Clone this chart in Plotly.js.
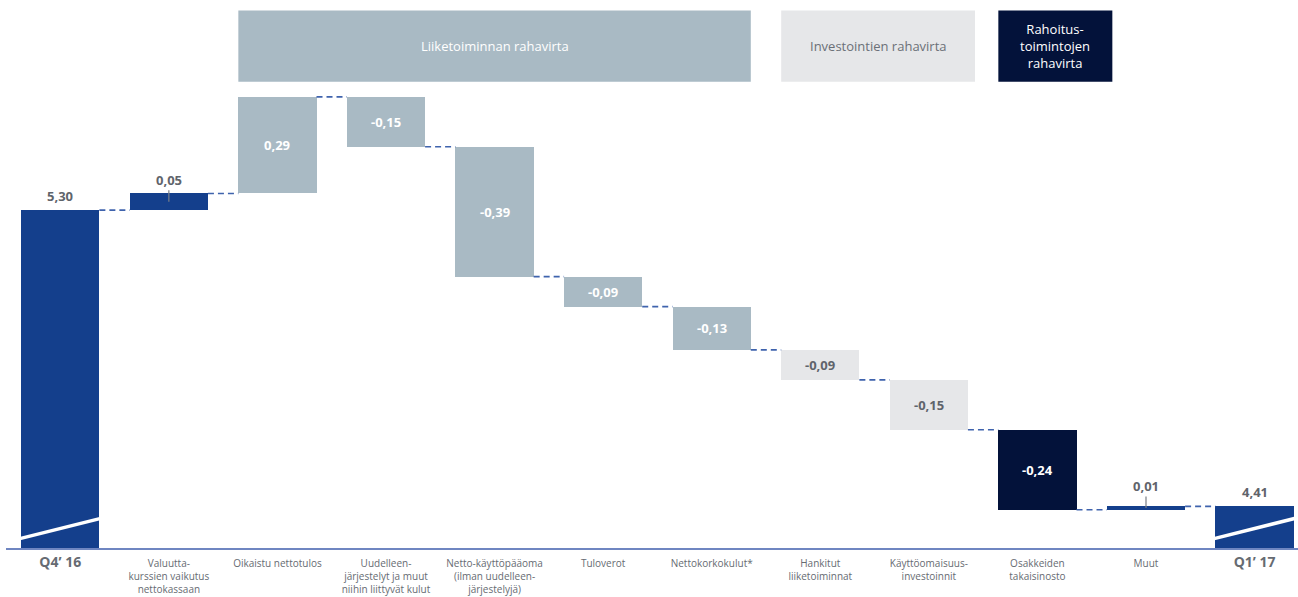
<!DOCTYPE html>
<html>
<head>
<meta charset="utf-8">
<script src="https://cdn.plot.ly/plotly-3.0.1.min.js"></script>
<style>html,body{margin:0;padding:0;background:#fff;}#chart{width:1298px;height:597px;}</style>
</head>
<body>
<div id="chart"></div>
<script>
// ---- data ----
const categories = ["Q4’ 16", "Valuutta-<br>kurssien vaikutus<br>nettokassaan", "Oikaistu nettotulos",
  "Uudelleen-<br>järjestelyt ja muut<br>niihin liittyvät kulut", "Netto-käyttöpääoma<br>(ilman uudelleen-<br>järjestelyjä)",
  "Tuloverot", "Nettokorkokulut*", "Hankitut<br>liiketoiminnat", "Käyttöomaisuus-<br>investoinnit",
  "Osakkeiden<br>takaisinosto", "Muut", "Q1’ 17"];
const values = [5.30, 0.05, 0.29, -0.15, -0.39, -0.09, -0.13, -0.09, -0.15, -0.24, 0.01, 4.41];
const kinds = ["total", "fx", "op", "op", "op", "op", "op", "inv", "inv", "fin", "fx", "total"];
const groupLabels = ["Liiketoiminnan rahavirta", "Investointien rahavirta", "Rahoitus-<br>toimintojen<br>rahavirta"];
const groupFirst = [2, 7, 9];
const groupLast = [6, 8, 9];

// ---- styles ----
const colorOf = {total: "#143f8c", fx: "#143f8c", op: "#a9bac4", inv: "#e6e7e9", fin: "#03123a"};
const labelColorOf = {op: "#ffffff", inv: "#5f646b", fin: "#ffffff"};
const groupFill = ["#a9bac4", "#e6e7e9", "#03123a"];
const groupText = ["#ffffff", "#6b7077", "#ffffff"];
const groupRightPad = [0.36, 0.425, 0.69];
const BW = 0.72, HALF = BW / 2;
const YMIN = 4.285, YMAX = 5.931;
const FONT = "Open Sans, sans-serif";

// ---- compute waterfall ----
const n = values.length;
const bases = [], tops = [];
let run = 0;
for (let i = 0; i < n; i++) {
  if (kinds[i] === "total") { bases.push(0); run = values[i]; tops.push(values[i]); }
  else { bases.push(run); run = run + values[i]; tops.push(run); }
}
const idx = categories.map((_, i) => i);
const fmt = v => (v < 0 ? "-" : "") + Math.abs(v).toFixed(2).replace(".", ",");

const traces = [{
  type: "bar", x: idx, y: values, base: bases,
  width: BW, marker: {color: kinds.map(k => colorOf[k]), line: {width: 0}},
  hoverinfo: "skip", showlegend: false
}];
// connectors
for (let i = 0; i < n - 1; i++) {
  const lvl = tops[i];
  traces.push({type: "scatter", mode: "lines", x: [i + HALF, i + 1 - HALF], y: [lvl, lvl],
    line: {color: "#3f63ad", width: 1.6, dash: "6px,4px"}, hoverinfo: "skip", showlegend: false});
}

const annotations = [];
for (let i = 0; i < n; i++) {
  const lo = Math.min(bases[i], tops[i]), hi = Math.max(bases[i], tops[i]);
  if (kinds[i] === "total") {
    annotations.push({x: i, y: values[i], text: "<b>" + fmt(values[i]) + "</b>", showarrow: false,
      yanchor: "bottom", yshift: 3, font: {family: FONT, size: 13, color: "#5f646b"}});
  } else if (kinds[i] === "fx") {
    annotations.push({x: i, y: (lo + hi) / 2, text: "<b>" + fmt(values[i]) + "</b>", showarrow: true,
      arrowhead: 0, arrowwidth: 1.2, arrowcolor: "#7a7f86", ax: 0, ay: -22, standoff: 0,
      font: {family: FONT, size: 13, color: "#5f646b"}});
  } else {
    annotations.push({x: i, y: (lo + hi) / 2, text: "<b>" + fmt(values[i]) + "</b>", showarrow: false,
      font: {family: FONT, size: 13, color: labelColorOf[kinds[i]]}});
  }
}

const shapes = [];
// group header boxes
for (let g = 0; g < groupLabels.length; g++) {
  const x0 = groupFirst[g] - HALF, x1 = groupLast[g] + groupRightPad[g];
  shapes.push({type: "rect", xref: "x", yref: "paper", x0: x0, x1: x1, y0: 0.851, y1: 0.981,
    fillcolor: groupFill[g], line: {width: 0}, layer: "below"});
  annotations.push({xref: "x", yref: "paper", x: (x0 + x1) / 2, y: 0.916, xanchor: "center", yanchor: "middle",
    text: groupLabels[g], showarrow: false, font: {family: FONT, size: 13, color: groupText[g]}});
}
// axis-break marks on total bars
for (let i = 0; i < n; i++) {
  if (kinds[i] !== "total") continue;
  shapes.push({type: "line", xref: "x", yref: "y", x0: i - 0.4, x1: i + 0.41,
    y0: YMIN + 0.026, y1: YMIN + 0.092, line: {color: "#ffffff", width: 3.5}});
}

const ticktext = categories.map((c, i) => kinds[i] === "total"
  ? '<b><span style="font-size:14px">' + c + '</span></b>' : c);

const layout = {
  width: 1298, height: 597,
  margin: {l: 6, r: 0, t: 0, b: 49, pad: 0},
  paper_bgcolor: "#ffffff", plot_bgcolor: "#ffffff",
  showlegend: false, bargap: 0,
  font: {family: FONT, color: "#5f646b"},
  xaxis: {range: [-0.5, 11.4], tickmode: "array", tickvals: idx, ticktext: ticktext,
    showgrid: false, zeroline: false, showline: true, linecolor: "#6f86c1", linewidth: 2,
    ticks: "", ticklabelstandoff: 5, tickfont: {family: FONT, size: 10, color: "#666b72"}, tickangle: 0, fixedrange: true},
  yaxis: {range: [YMIN, YMAX], visible: false, showgrid: false, zeroline: false, fixedrange: true},
  shapes: shapes, annotations: annotations
};

Plotly.newPlot("chart", traces, layout, {displayModeBar: false, staticPlot: true});
</script>
</body>
</html>
